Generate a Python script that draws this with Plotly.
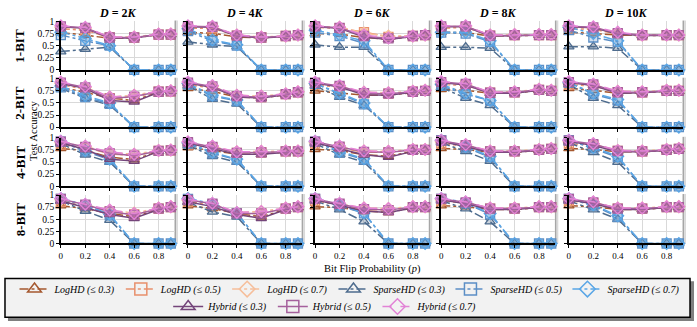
import plotly.graph_objects as go

W, H = 697, 327

# ---------------- data ----------------
P = [0, 0.2, 0.4, 0.6, 0.8, 0.9]
ROW_LABELS = ["1-BIT", "2-BIT", "4-BIT", "8-BIT"]
DIM_LABELS = ["2K", "4K", "6K", "8K", "10K"]
Y_TICKS = [0, 0.25, 0.5, 0.75, 1]
Y_TICK_TEXT = ["0", "0.25", "0.5", "0.75", "1"]
X_TICKS = [0, 0.2, 0.4, 0.6, 0.8]
X_TICK_TEXT = ["0", "0.2", "0.4", "0.6", "0.8"]

# each: 4 rows (bits) x 5 cols (D) x 6 points
LOGHD_03 = [
    [[0.77,0.72,0.65,0.66,0.73,0.73],[0.77,0.76,0.68,0.66,0.69,0.71],[0.75,0.74,0.67,0.63,0.69,0.71],[0.78,0.77,0.70,0.71,0.72,0.72],[0.78,0.75,0.72,0.71,0.71,0.71]],
    [[0.82,0.72,0.60,0.55,0.72,0.74],[0.80,0.74,0.62,0.60,0.67,0.71],[0.75,0.70,0.66,0.66,0.72,0.74],[0.78,0.76,0.70,0.70,0.76,0.74],[0.80,0.76,0.70,0.71,0.74,0.74]],
    [[0.78,0.74,0.60,0.55,0.72,0.74],[0.80,0.74,0.66,0.66,0.71,0.72],[0.76,0.74,0.65,0.62,0.72,0.74],[0.78,0.76,0.70,0.70,0.74,0.76],[0.78,0.76,0.71,0.71,0.74,0.76]],
    [[0.78,0.72,0.62,0.55,0.70,0.74],[0.78,0.72,0.62,0.55,0.70,0.74],[0.76,0.74,0.67,0.64,0.73,0.74],[0.78,0.76,0.70,0.70,0.74,0.74],[0.78,0.76,0.70,0.70,0.74,0.74]],
]
LOGHD_05 = [
    [[0.85,0.82,0.67,0.67,0.73,0.73],[0.86,0.86,0.71,0.67,0.70,0.72],[0.88,0.86,0.78,0.68,0.70,0.72],[0.86,0.88,0.71,0.72,0.72,0.72],[0.85,0.84,0.74,0.72,0.72,0.72]],
    [[0.88,0.78,0.60,0.62,0.73,0.74],[0.88,0.80,0.64,0.62,0.68,0.72],[0.88,0.82,0.70,0.69,0.73,0.75],[0.88,0.86,0.71,0.72,0.77,0.75],[0.88,0.85,0.72,0.72,0.75,0.75]],
    [[0.86,0.80,0.67,0.63,0.73,0.74],[0.86,0.80,0.69,0.70,0.72,0.72],[0.88,0.80,0.70,0.70,0.75,0.75],[0.88,0.83,0.72,0.72,0.75,0.77],[0.88,0.85,0.73,0.72,0.75,0.77]],
    [[0.86,0.78,0.66,0.60,0.72,0.75],[0.86,0.80,0.62,0.62,0.72,0.75],[0.88,0.80,0.70,0.69,0.75,0.75],[0.88,0.83,0.72,0.72,0.75,0.75],[0.88,0.83,0.72,0.72,0.75,0.75]],
]
LOGHD_07 = [
    [[0.88,0.86,0.68,0.68,0.74,0.74],[0.89,0.89,0.72,0.68,0.70,0.72],[0.90,0.88,0.76,0.70,0.70,0.72],[0.89,0.90,0.72,0.73,0.73,0.73],[0.88,0.87,0.76,0.72,0.72,0.72]],
    [[0.90,0.82,0.62,0.66,0.74,0.75],[0.90,0.84,0.66,0.64,0.69,0.73],[0.90,0.84,0.72,0.71,0.74,0.76],[0.90,0.88,0.72,0.73,0.78,0.76],[0.90,0.87,0.74,0.73,0.76,0.76]],
    [[0.90,0.82,0.70,0.66,0.74,0.75],[0.89,0.82,0.71,0.72,0.73,0.73],[0.90,0.82,0.73,0.72,0.76,0.76],[0.92,0.85,0.73,0.73,0.76,0.78],[0.92,0.87,0.74,0.73,0.76,0.78]],
    [[0.90,0.80,0.68,0.63,0.73,0.76],[0.89,0.82,0.64,0.66,0.73,0.76],[0.90,0.82,0.73,0.72,0.76,0.76],[0.90,0.85,0.73,0.73,0.76,0.76],[0.90,0.85,0.73,0.73,0.76,0.76]],
]
SPARSEHD_03 = [
    [[0.38,0.43,0.47,0,0,0],[0.58,0.52,0.48,0,0,0],[0.52,0.47,0.47,0,0,0],[0.47,0.47,0.45,0,0,0],[0.48,0.48,0.45,0,0,0]],
    [[0.80,0.60,0.45,0,0,0],[0.85,0.58,0.48,0,0,0],[0.85,0.62,0.45,0,0,0],[0.82,0.60,0.45,0,0,0],[0.88,0.60,0.45,0,0,0]],
    [[0.88,0.65,0.50,0,0,0],[0.85,0.62,0.50,0,0,0],[0.88,0.65,0.50,0,0,0],[0.90,0.72,0.52,0,0,0],[0.90,0.70,0.50,0,0,0]],
    [[0.88,0.67,0.48,0,0,0],[0.85,0.65,0.55,0,0,0],[0.88,0.70,0.45,0,0,0],[0.88,0.72,0.45,0,0,0],[0.88,0.70,0.50,0,0,0]],
]
SPARSEHD_05 = [
    [[0.72,0.60,0.50,0,0,0],[0.80,0.60,0.50,0,0,0],[0.77,0.70,0.55,0,0,0],[0.77,0.75,0.58,0,0,0],[0.82,0.67,0.58,0,0,0]],
    [[0.82,0.62,0.48,0,0,0],[0.88,0.64,0.54,0,0,0],[0.90,0.68,0.47,0,0,0],[0.85,0.68,0.55,0,0,0],[0.92,0.68,0.55,0,0,0]],
    [[0.92,0.72,0.55,0,0,0],[0.88,0.68,0.55,0,0,0],[0.92,0.70,0.55,0,0,0],[0.95,0.80,0.60,0,0,0],[0.95,0.78,0.60,0,0,0]],
    [[0.92,0.78,0.58,0,0,0],[0.92,0.80,0.62,0,0,0],[0.92,0.78,0.62,0,0,0],[0.92,0.83,0.60,0,0,0],[0.92,0.78,0.55,0,0,0]],
]
SPARSEHD_07 = [
    [[0.78,0.65,0.50,0,0,0],[0.85,0.62,0.52,0,0,0],[0.82,0.72,0.60,0,0,0],[0.78,0.78,0.60,0,0,0],[0.88,0.75,0.60,0,0,0]],
    [[0.85,0.65,0.50,0,0,0],[0.90,0.66,0.56,0,0,0],[0.90,0.70,0.50,0,0,0],[0.88,0.70,0.55,0,0,0],[0.92,0.70,0.57,0,0,0]],
    [[0.93,0.74,0.56,0,0,0],[0.90,0.70,0.56,0,0,0],[0.93,0.72,0.57,0,0,0],[0.95,0.82,0.62,0,0,0],[0.95,0.80,0.62,0,0,0]],
    [[0.93,0.80,0.60,0,0,0],[0.93,0.82,0.63,0,0,0],[0.93,0.80,0.63,0,0,0],[0.93,0.85,0.62,0,0,0],[0.93,0.80,0.57,0,0,0]],
]
HYBRID_03 = [
    [[0.89,0.86,0.66,0.66,0.73,0.73],[0.89,0.88,0.70,0.66,0.69,0.71],[0.89,0.86,0.68,0.63,0.69,0.71],[0.89,0.89,0.70,0.71,0.72,0.72],[0.89,0.87,0.74,0.71,0.71,0.71]],
    [[0.90,0.80,0.55,0.52,0.72,0.74],[0.91,0.82,0.62,0.60,0.67,0.71],[0.91,0.83,0.67,0.66,0.72,0.74],[0.92,0.87,0.70,0.70,0.76,0.74],[0.92,0.86,0.70,0.71,0.74,0.74]],
    [[0.90,0.76,0.56,0.52,0.72,0.74],[0.89,0.78,0.66,0.66,0.71,0.72],[0.90,0.78,0.65,0.60,0.72,0.74],[0.93,0.82,0.70,0.70,0.74,0.76],[0.93,0.84,0.71,0.71,0.74,0.76]],
    [[0.88,0.74,0.60,0.52,0.70,0.74],[0.86,0.76,0.60,0.52,0.70,0.74],[0.90,0.78,0.67,0.64,0.73,0.74],[0.90,0.82,0.70,0.70,0.74,0.74],[0.90,0.82,0.70,0.70,0.74,0.74]],
]
HYBRID_05 = [
    [[0.90,0.87,0.67,0.67,0.73,0.73],[0.90,0.89,0.71,0.67,0.70,0.72],[0.90,0.87,0.70,0.65,0.70,0.72],[0.90,0.90,0.71,0.72,0.72,0.72],[0.90,0.88,0.76,0.72,0.72,0.72]],
    [[0.92,0.82,0.59,0.63,0.73,0.74],[0.92,0.84,0.64,0.62,0.68,0.72],[0.92,0.85,0.70,0.69,0.73,0.75],[0.93,0.89,0.71,0.72,0.77,0.75],[0.93,0.88,0.72,0.72,0.75,0.75]],
    [[0.92,0.81,0.68,0.63,0.73,0.74],[0.91,0.81,0.69,0.70,0.72,0.72],[0.92,0.82,0.71,0.70,0.75,0.75],[0.94,0.85,0.72,0.72,0.75,0.77],[0.94,0.87,0.73,0.72,0.75,0.77]],
    [[0.92,0.80,0.66,0.59,0.72,0.75],[0.90,0.82,0.62,0.62,0.72,0.75],[0.92,0.82,0.71,0.69,0.75,0.75],[0.92,0.85,0.72,0.72,0.75,0.75],[0.92,0.85,0.72,0.72,0.75,0.75]],
]
HYBRID_07 = [
    [[0.91,0.88,0.68,0.68,0.74,0.74],[0.91,0.90,0.72,0.68,0.70,0.72],[0.91,0.88,0.72,0.66,0.70,0.72],[0.91,0.91,0.72,0.73,0.73,0.73],[0.91,0.89,0.78,0.72,0.72,0.72]],
    [[0.93,0.84,0.62,0.66,0.74,0.75],[0.93,0.86,0.66,0.64,0.69,0.73],[0.93,0.86,0.72,0.71,0.74,0.76],[0.94,0.90,0.72,0.73,0.78,0.76],[0.94,0.89,0.74,0.73,0.76,0.76]],
    [[0.93,0.83,0.71,0.66,0.74,0.75],[0.92,0.83,0.71,0.72,0.73,0.73],[0.93,0.83,0.73,0.72,0.76,0.76],[0.95,0.86,0.73,0.73,0.76,0.78],[0.95,0.88,0.74,0.73,0.76,0.78]],
    [[0.93,0.81,0.69,0.62,0.73,0.76],[0.91,0.83,0.64,0.66,0.73,0.76],[0.93,0.83,0.73,0.72,0.76,0.76],[0.93,0.86,0.73,0.73,0.76,0.76],[0.93,0.86,0.73,0.73,0.76,0.76]],
]

SERIES_NAMES = ["LogHD (≤ 0.3)", "LogHD (≤ 0.5)", "LogHD (≤ 0.7)",
                "SparseHD (≤ 0.3)", "SparseHD (≤ 0.5)", "SparseHD (≤ 0.7)",
                "Hybrid (≤ 0.3)", "Hybrid (≤ 0.5)", "Hybrid (≤ 0.7)"]
SERIES_DATA = [LOGHD_03, LOGHD_05, LOGHD_07, SPARSEHD_03, SPARSEHD_05, SPARSEHD_07,
               HYBRID_03, HYBRID_05, HYBRID_07]

# ---------------- styles ----------------
COLORS = ["#A5582F", "#E8906C", "#F6BE9A", "#4E6C8E", "#5C8FC6", "#5AA6E6",
          "#74457A", "#A5609C", "#E283D6"]
SYMBOLS = ["triangle-up", "square", "diamond"] * 3
DASHES = ["dashdot", "dashdot", "dashdot", "dashdot", "dashdot", "dashdot",
          "solid", "solid", "dash"]
LEGEND_GROUPS = ["legend"] * 6 + ["legend2"] * 3


def rgba(hexc, a):
    hexc = hexc.lstrip("#")
    r, g, b = int(hexc[0:2], 16), int(hexc[2:4], 16), int(hexc[4:6], 16)
    return f"rgba({r},{g},{b},{a})"


SERIF = "Liberation Serif, Times New Roman, serif"

XL = [59, 186.5, 314, 440.5, 568.5]
PW = 114
YT = [17, 76, 137, 196]
PH = 50

fig = go.Figure()
layout = {}
shapes = []
annotations = []

for r in range(4):
    for c in range(5):
        n = r * 5 + c + 1
        xa = "x" if n == 1 else f"x{n}"
        ya = "y" if n == 1 else f"y{n}"
        xkey = "xaxis" if n == 1 else f"xaxis{n}"
        ykey = "yaxis" if n == 1 else f"yaxis{n}"
        layout[xkey] = dict(
            domain=[XL[c] / W, (XL[c] + PW) / W], range=[0, 0.93], anchor=ya,
            tickvals=X_TICKS, ticktext=X_TICK_TEXT, showticklabels=(r == 3),
            showgrid=True, gridcolor="#d9d9d9", gridwidth=1,
            showline=True, linecolor="black", linewidth=1.5,
            ticks="outside", ticklen=3, tickcolor="black", tickwidth=1,
            tickfont=dict(family=SERIF, size=9, color="black"), zeroline=False,
        )
        layout[ykey] = dict(
            domain=[1 - (YT[r] + PH) / H, 1 - YT[r] / H], range=[0, 1], anchor=xa,
            tickvals=Y_TICKS, ticktext=Y_TICK_TEXT, showticklabels=(c == 0),
            showgrid=True, gridcolor="#d9d9d9", gridwidth=1,
            showline=True, linecolor="black", linewidth=1.5,
            ticks="outside", ticklen=3, tickcolor="black", tickwidth=1,
            tickfont=dict(family=SERIF, size=9.5, color="black"), zeroline=False,
        )
        # right-side shadow of panel
        shapes.append(dict(type="rect", xref=f"{xa} domain", yref=f"{ya} domain",
                           x0=1.0, x1=1.015, y0=0, y1=1.02, fillcolor="#a6a6a6",
                           line=dict(width=0), layer="below"))
        shapes.append(dict(type="rect", xref=f"{xa} domain", yref=f"{ya} domain",
                           x0=1.015, x1=1.03, y0=0, y1=1.02, fillcolor="#d9d9d9",
                           line=dict(width=0), layer="below"))
        for s in range(9):
            fig.add_trace(go.Scatter(
                x=P, y=SERIES_DATA[s][r][c], xaxis=xa, yaxis=ya,
                mode="lines+markers", showlegend=False, cliponaxis=False,
                line=dict(color=COLORS[s], width=1.5, dash=DASHES[s]),
                marker=dict(symbol=SYMBOLS[s], size=9, color=rgba(COLORS[s], 0.3),
                            line=dict(color=COLORS[s], width=1.3)),
                hoverinfo="skip",
            ))

# legend-only entries
for s in range(9):
    fig.add_trace(go.Scatter(
        x=[None], y=[None], mode="lines+markers", name=SERIES_NAMES[s],
        legend=LEGEND_GROUPS[s], showlegend=True,
        line=dict(color=COLORS[s], width=1.5, dash=DASHES[s]),
        marker=dict(symbol=SYMBOLS[s], size=12, color="rgba(255,255,255,0)",
                    line=dict(color=COLORS[s], width=1.5)),
    ))

# column titles
for c in range(5):
    annotations.append(dict(
        text=f"<b><i>D</i> = {DIM_LABELS[c][:-1]}<i>K</i></b>",
        x=(XL[c] + PW / 2) / W, y=1 - 8 / H, xref="paper", yref="paper",
        showarrow=False, font=dict(family=SERIF, size=12, color="black"),
        xanchor="center", yanchor="middle"))
# row labels
for r in range(4):
    annotations.append(dict(
        text=f"<b>{ROW_LABELS[r]}</b>", textangle=-90,
        x=18 / W, y=1 - (YT[r] + PH / 2) / H, xref="paper", yref="paper",
        showarrow=False, font=dict(family=SERIF, size=13, color="black"),
        xanchor="center", yanchor="middle"))
annotations.append(dict(
    text="Test Accuracy", textangle=-90, x=31 / W, y=1 - 130 / H,
    xref="paper", yref="paper", showarrow=False,
    font=dict(family=SERIF, size=10.5, color="black"), xanchor="center", yanchor="middle"))
annotations.append(dict(
    text="Bit Flip Probability (<i>p</i>)", x=372 / W, y=1 - 272 / H,
    xref="paper", yref="paper", showarrow=False, borderpad=0,
    font=dict(family=SERIF, size=10.5, color="black"), xanchor="center", yanchor="middle"))

# legend box
shapes.append(dict(type="rect", xref="paper", yref="paper",
                   x0=6 / W, x1=694 / W, y0=1 - 326 / H, y1=1 - 285 / H,
                   fillcolor="#7f7f7f", line=dict(width=0), layer="below"))
shapes.append(dict(type="rect", xref="paper", yref="paper",
                   x0=3 / W, x1=690 / W, y0=1 - 322 / H, y1=1 - 282 / H,
                   fillcolor="#f2f2f2", line=dict(color="black", width=1.5), layer="below"))

leg_font = dict(family=SERIF, size=10, color="black", style="italic")
fig.update_layout(
    width=W, height=H, margin=dict(l=0, r=0, t=0, b=0),
    paper_bgcolor="white", plot_bgcolor="white",
    shapes=shapes, annotations=annotations,
    legend=dict(orientation="h", x=0.5, xanchor="center", y=1 - 293 / H, yanchor="middle",
                bgcolor="rgba(0,0,0,0)", font=leg_font, tracegroupgap=0,
                itemwidth=30),
    legend2=dict(orientation="h", x=0.465, xanchor="center", y=1 - 311 / H, yanchor="middle",
                 bgcolor="rgba(0,0,0,0)", font=leg_font, tracegroupgap=0,
                 itemwidth=30),
    **layout,
)

fig.write_html("out.html", config={"displayModeBar": False},
               post_script="document.body.style.margin='0';document.body.style.padding='0';document.body.style.overflow='hidden';")
